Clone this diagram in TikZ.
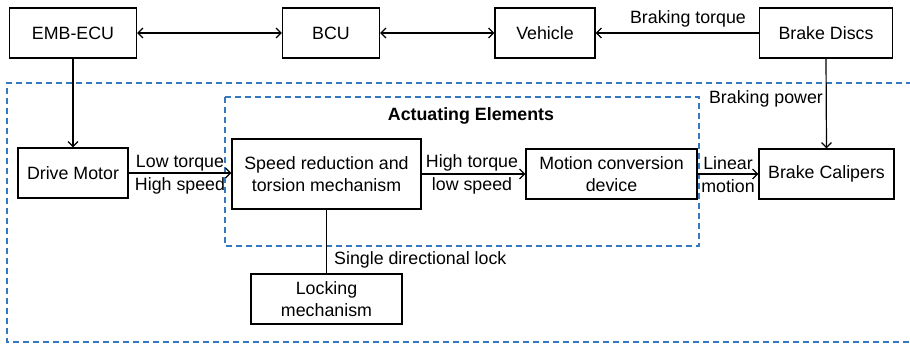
\documentclass[tikz,border=0pt]{standalone}
\usepackage{fontspec}
\setmainfont{Liberation Sans}
\usetikzlibrary{arrows.meta}
\definecolor{dashblue}{RGB}{52,120,190}
\tikzset{
  blk/.style={draw=black, line width=1.2pt, fill=white, align=center, inner sep=0pt,
    font=\fontsize{17.8pt}{22pt}\selectfont},
  lbl/.style={align=center, inner sep=0pt, font=\fontsize{17.8pt}{22pt}\selectfont},
  conn/.style={line width=1.2pt, -{Straight Barb[length=5pt,width=10pt,line width=1.2pt]}},
  biconn/.style={line width=1.2pt, {Straight Barb[length=5pt,width=10pt,line width=1.2pt]}-{Straight Barb[length=5pt,width=10pt,line width=1.2pt]}},
  plain/.style={line width=1.2pt},
  grp/.style={draw=dashblue, line width=1.2pt, dash pattern=on 6pt off 4pt},
}
\begin{document}
\begin{tikzpicture}[x=1pt, y=-1pt]
\useasboundingbox (0,0) rectangle (910,345);

% dashed groupings
\draw[grp] (912,83) -- (7,83) -- (7,342) -- (912,342);
\draw[grp] (225,97) rectangle (699,246);
\node[lbl, font=\fontsize{17.8pt}{22pt}\selectfont\bfseries] (act) at (471,116) {Actuating Elements};

% top row
\node[blk, minimum width=127pt, minimum height=50pt] (ecu) at (73,33) {EMB-ECU};
\node[blk, minimum width=97pt, minimum height=50pt] (bcu) at (331,33) {BCU};
\node[blk, minimum width=100pt, minimum height=50pt] (veh) at (545,33) {Vehicle};
\node[blk, minimum width=133pt, minimum height=50pt] (disc) at (826,33) {Brake Discs};

% middle row
\node[blk, minimum width=110pt, minimum height=50pt] (motor) at (73,173) {Drive Motor};
\node[blk, minimum width=189pt, minimum height=70pt] (speed) at (326.5,174) {Speed reduction and\\torsion mechanism};
\node[blk, minimum width=171pt, minimum height=50pt] (conv) at (611.5,174) {Motion conversion\\device};
\node[blk, minimum width=135pt, minimum height=50pt] (cal) at (826.5,174) {Brake Calipers};

% bottom
\node[blk, minimum width=151pt, minimum height=50pt] (lock) at (326.5,299) {Locking\\mechanism};

% connectors
\draw[biconn] (ecu.east) -- (bcu.west);
\draw[biconn] (bcu.east) -- (veh.west);
\draw[conn] (disc.west) -- (veh.east);
\node[lbl] (torque) at (688,19) {Braking torque};

\draw[conn] (ecu.south) -- (motor.north);
\draw[conn] (disc.south) -- (cal.north);
\node[lbl] (power) at (766,99) {Braking power};

\draw[conn] (motor.east) -- (speed.west |- motor.east);
\node[lbl] (lt) at (180,163) {Low torque};
\node[lbl] (hs) at (180,186) {High speed};

\draw[conn] (speed.east |- conv.west) -- (conv.west);
\node[lbl] (ht) at (472,163) {High torque};
\node[lbl] (ls) at (472,186) {low speed};

\draw[conn] (conv.east) -- (cal.west);
\node[lbl] (lin) at (728,163) {Linear};
\node[lbl] (mot) at (728,186) {motion};

\draw[plain] (speed.south) -- (lock.north);
\node[lbl, anchor=west] (sdl) at (334,260) {Single directional lock};
\end{tikzpicture}
\end{document}
